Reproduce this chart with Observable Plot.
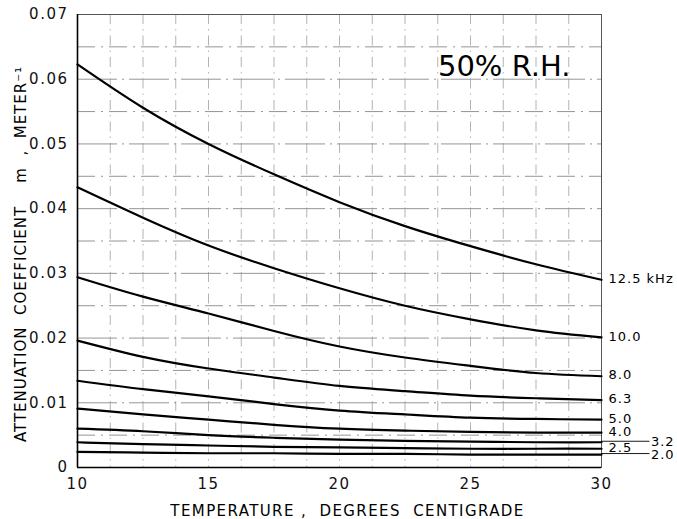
<!DOCTYPE html>
<html>
<head>
<meta charset="utf-8">
<script src="https://cdn.jsdelivr.net/npm/d3@7"></script>
<script src="https://cdn.jsdelivr.net/npm/@observablehq/plot@0.6"></script>
<style>
  html, body { margin: 0; padding: 0; background: #fff; }
  #chart svg { display: block; }
  #chart g[aria-label="y-axis tick label"] text,
  #chart g[aria-label="x-axis tick label"] text { letter-spacing: 1.5px; }
  #chart g[aria-description="x title"] text { letter-spacing: 1.4px; }
  #chart g[aria-description="y title"] text { letter-spacing: 1px; }
  #chart g[aria-description="frequency labels"] text { letter-spacing: 1px; }
</style>
</head>
<body>
<div id="chart"></div>
<script>
// Temperature (°C) at which each curve is sampled
const temps = [10, 12.5, 15, 17.5, 20, 22.5, 25, 27.5, 30];

// Attenuation coefficient m (1/meter) at 50% relative humidity, per frequency
const m12_5 = [0.0623, 0.0556, 0.0500, 0.0453, 0.0410, 0.0373, 0.0342, 0.0314, 0.0290];
const m10_0 = [0.0433, 0.0386, 0.0343, 0.0308, 0.0277, 0.0250, 0.0229, 0.0212, 0.0201];
const m8_0  = [0.0294, 0.0264, 0.0238, 0.0211, 0.0187, 0.0170, 0.0157, 0.0146, 0.0141];
const m6_3  = [0.0196, 0.0171, 0.0153, 0.0139, 0.0126, 0.0118, 0.0111, 0.0107, 0.0104];
const m5_0  = [0.0134, 0.0121, 0.0110, 0.0098, 0.0088, 0.0082, 0.0077, 0.0075, 0.0074];
const m4_0  = [0.0091, 0.0082, 0.0074, 0.0066, 0.0060, 0.0057, 0.0055, 0.0054, 0.0054];
const m3_2  = [0.0060, 0.0056, 0.0050, 0.0046, 0.0043, 0.0041, 0.0040, 0.0039, 0.0039];
const m2_5  = [0.0039, 0.0036, 0.0034, 0.0032, 0.0031, 0.0030, 0.0029, 0.0029, 0.0029];
const m2_0  = [0.0024, 0.0023, 0.0022, 0.0022, 0.0021, 0.0021, 0.0020, 0.0020, 0.0020];

const freqLabels = ["12.5 kHz", "10.0", "8.0", "6.3", "5.0", "4.0", "3.2", "2.5", "2.0"];
const seriesValues = [m12_5, m10_0, m8_0, m6_3, m5_0, m4_0, m3_2, m2_5, m2_0];

// Axis ticks and grid positions
const xTicks = [10, 15, 20, 25, 30];
const yTicks = [0, 0.01, 0.02, 0.03, 0.04, 0.05, 0.06, 0.07];
const xGrid = [11.25, 12.5, 13.75, 15, 16.25, 17.5, 18.75, 20, 21.25, 22.5, 23.75, 25, 26.25, 27.5, 28.75];
const yGridMajor = [0.01, 0.02, 0.03, 0.04, 0.05, 0.06];
const yGridMinor = [0.005, 0.015, 0.025, 0.035, 0.045, 0.055, 0.065];

const NB = "\u00A0";
const titleText = "50% R.H.";
const xTitle = `TEMPERATURE${NB},${NB}${NB}DEGREES${NB}${NB}CENTIGRADE`;
const yTitle = `ATTENUATION${NB}${NB}COEFFICIENT${NB}${NB}${NB}${NB}m${NB}${NB},${NB}${NB}METER\u207B\u00B9`;

// Long table for the line mark
const rows = [];
freqLabels.forEach((f, j) => {
  temps.forEach((t, i) => rows.push({f, t, m: seriesValues[j][i]}));
});

// End-of-curve labels; 3.2 and 2.0 sit out to the right on leader lines
const ends = freqLabels.map((f, j) => ({
  f,
  t: temps[temps.length - 1],
  m: seriesValues[j][temps.length - 1]
}));
const isFar = d => d.f === "3.2" || d.f === "2.0";
const leaderEnd = 31.85;

const chart = Plot.plot({
  width: 677,
  height: 519,
  marginLeft: 77,
  marginRight: 76,
  marginTop: 14,
  marginBottom: 52,
  style: {fontFamily: "'DejaVu Sans', sans-serif", color: "#111", background: "#fff"},
  x: {domain: [10, 30]},
  y: {domain: [0, 0.07]},
  marks: [
    // engineering-paper style grid
    Plot.ruleX(xGrid, {stroke: "#a0a0a0", strokeWidth: 0.8, strokeDasharray: "10,5,1.5,5"}),
    Plot.ruleY(yGridMajor, {stroke: "#959595", strokeWidth: 1, strokeDasharray: "40,5,2,5"}),
    Plot.ruleY(yGridMinor, {stroke: "#959595", strokeWidth: 1, strokeDasharray: "18,6,2,6"}),
    Plot.frame({stroke: "#555", strokeWidth: 1}),
    Plot.ruleX([10], {stroke: "#000", strokeWidth: 1.6}),
    Plot.ruleY([0], {stroke: "#000", strokeWidth: 1.6}),
    Plot.axisX({
      ticks: xTicks, tickSize: 0, tickPadding: 11, fontSize: 15,
      tickFormat: d => String(d), label: null
    }),
    Plot.axisY({
      ticks: yTicks, tickSize: 0, tickPadding: 9, fontSize: 15,
      tickFormat: d => d === 0 ? "0" : d.toFixed(2), label: null
    }),
    // axis titles
    Plot.text([xTitle], {
      frameAnchor: "bottom", textAnchor: "middle", lineAnchor: "middle",
      dx: 8, dy: 44, fontSize: 15, fill: "#000", ariaDescription: "x title"
    }),
    Plot.text([yTitle], {
      frameAnchor: "left", textAnchor: "middle", lineAnchor: "middle", rotate: -90,
      dx: -56, dy: 13, fontSize: 15, fill: "#000", ariaDescription: "y title"
    }),
    Plot.line(rows, {x: "t", y: "m", z: "f", stroke: "#000", strokeWidth: 2.2, curve: "natural"}),
    Plot.ruleY(ends.filter(isFar), {y: "m", x1: "t", x2: () => leaderEnd, dy: -1, stroke: "#000", strokeWidth: 0.9}),
    Plot.text(ends.filter(d => !isFar(d)), {
      x: "t", y: "m", text: "f",
      textAnchor: "start", lineAnchor: "middle",
      dx: 7, dy: -1,
      fontSize: 13, fill: "#000", ariaDescription: "frequency labels"
    }),
    Plot.text(ends.filter(isFar), {
      x: () => leaderEnd, y: "m", text: "f",
      textAnchor: "start", lineAnchor: "middle",
      dx: 1, dy: 0,
      fontSize: 13, fill: "#000", ariaDescription: "frequency labels"
    }),
    Plot.text([titleText], {
      frameAnchor: "top-right", textAnchor: "end", lineAnchor: "middle",
      dx: -31, dy: 52, fontSize: 29, fill: "#000"
    })
  ]
});

document.getElementById("chart").appendChild(chart);
</script>
</body>
</html>
